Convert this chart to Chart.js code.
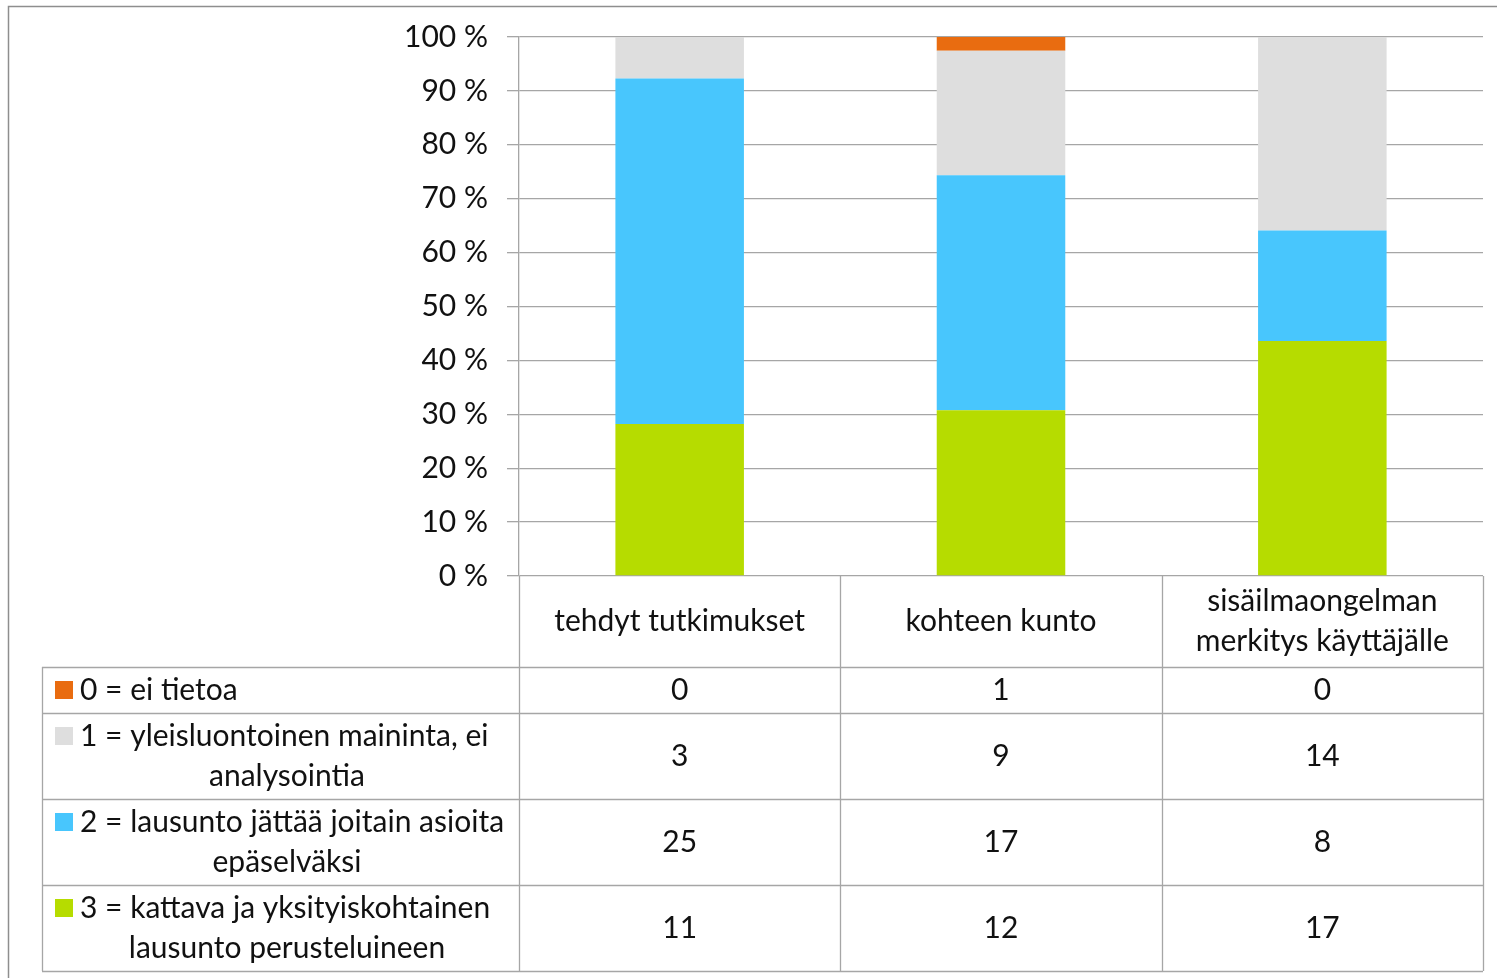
<!DOCTYPE html>
<html>
<head>
<meta charset="utf-8">
<script src="https://cdn.jsdelivr.net/npm/chart.js@4/dist/chart.umd.min.js"></script>
<style>
html,body{margin:0;padding:0;background:#fff;}
#wrap{width:1497px;height:978px;position:relative;}
</style>
</head>
<body>
<div id="wrap"><canvas id="c" width="1497" height="978"></canvas></div>
<script>
const categories = ['tehdyt tutkimukset', 'kohteen kunto', 'sisäilmaongelman merkitys käyttäjälle'];
const seriesNames = [
  '0 = ei tietoa',
  '1 = yleisluontoinen maininta, ei analysointia',
  '2 = lausunto jättää joitain asioita epäselväksi',
  '3 = kattava ja yksityiskohtainen lausunto perusteluineen'
];
const seriesColors = ['#E96C10', '#DEDEDE', '#48C6FD', '#B6DC00'];
const counts0 = [0, 1, 0];
const counts1 = [3, 9, 14];
const counts2 = [25, 17, 8];
const counts3 = [11, 12, 17];
const yTicks = [0, 10, 20, 30, 40, 50, 60, 70, 80, 90, 100];

const seriesCounts = [counts0, counts1, counts2, counts3];
const totals = categories.map((_, i) => seriesCounts.reduce((s, a) => s + a[i], 0));
const pct = arr => arr.map((v, i) => v / totals[i] * 100);

const FONT = 'Lato, "Open Sans", sans-serif';
const FS = 30;
const LINE = '#A6A6A6';

// bottom of stack first
const datasets = [3, 2, 1, 0].map(k => ({
  label: seriesNames[k],
  data: pct(seriesCounts[k]),
  backgroundColor: seriesColors[k],
  borderWidth: 0,
  categoryPercentage: 1,
  barPercentage: 0.4
}));

function wrap(ctx, text, maxW) {
  const words = text.split(' ');
  const lines = [];
  let cur = '';
  for (const w of words) {
    const t = cur ? cur + ' ' + w : w;
    if (cur && ctx.measureText(t).width > maxW) { lines.push(cur); cur = w; }
    else cur = t;
  }
  if (cur) lines.push(cur);
  return lines;
}

const tablePlugin = {
  id: 'dataTable',
  afterDraw(chart) {
    const ctx = chart.ctx;
    const ca = chart.chartArea;
    const x = chart.scales.x;
    ctx.save();
    // outer frame
    ctx.strokeStyle = '#8E8E8E';
    ctx.lineWidth = 1.5;
    ctx.beginPath();
    ctx.moveTo(8.5, 978); ctx.lineTo(8.5, 6.5); ctx.lineTo(1497, 6.5);
    ctx.stroke();

    const n = categories.length;
    const colW = (ca.right - ca.left) / n;
    const bounds = [];
    for (let i = 0; i <= n; i++) bounds.push(ca.left + colW * i);
    const leftX = 42;
    const top = ca.bottom;
    const headerH = 91;
    const lineH = 40;
    ctx.font = FS + 'px ' + FONT;
    const legLines = seriesNames.map(s => wrap(ctx, s, 445));
    const rowHs = legLines.map(l => l.length * lineH + 6);
    let total = headerH + rowHs.reduce((a, b) => a + b, 0);

    ctx.strokeStyle = LINE;
    ctx.lineWidth = 1.3;
    ctx.beginPath();
    for (let i = 0; i <= n; i++) {
      ctx.moveTo(Math.round(bounds[i]) + 0.5, top);
      ctx.lineTo(Math.round(bounds[i]) + 0.5, top + total);
    }
    ctx.moveTo(leftX + 0.5, top + headerH);
    ctx.lineTo(leftX + 0.5, top + total);
    let y = top + headerH;
    const rowTops = [];
    for (let r = 0; r <= rowHs.length; r++) {
      ctx.moveTo(leftX, Math.round(y) + 0.5);
      ctx.lineTo(bounds[n], Math.round(y) + 0.5);
      if (r < rowHs.length) { rowTops.push(y); y += rowHs[r]; }
    }
    ctx.stroke();

    ctx.fillStyle = '#111';
    ctx.textBaseline = 'middle';
    ctx.textAlign = 'center';
    categories.forEach((c, i) => {
      const cx = x.getPixelForValue(i);
      const lines = wrap(ctx, c, colW - 24);
      const cy = top + headerH / 2;
      lines.forEach((l, j) => {
        ctx.fillText(l, cx, cy + (j - (lines.length - 1) / 2) * lineH);
      });
    });
    seriesNames.forEach((s, r) => {
      const rt = rowTops[r];
      const rh = rowHs[r];
      const lines = legLines[r];
      const firstY = rt + rh / 2 - (lines.length - 1) / 2 * lineH;
      ctx.fillStyle = seriesColors[r];
      ctx.fillRect(55, firstY - 9, 18, 18);
      ctx.fillStyle = '#111';
      lines.forEach((l, j) => {
        if (j === 0) { ctx.textAlign = 'left'; ctx.fillText(l, 80, firstY); }
        else { ctx.textAlign = 'center'; ctx.fillText(l, (55 + bounds[0]) / 2, firstY + j * lineH); }
      });
      ctx.textAlign = 'center';
      seriesCounts[r].forEach((v, i) => {
        ctx.fillText(String(v), x.getPixelForValue(i), rt + rh / 2);
      });
    });
    ctx.restore();
  }
};

new Chart(document.getElementById('c'), {
  type: 'bar',
  data: { labels: categories, datasets },
  options: {
    responsive: false,
    animation: false,
    layout: { padding: { left: 0, top: 36, right: 14, bottom: 402 } },
    plugins: { legend: { display: false }, tooltip: { enabled: false } },
    scales: {
      x: {
        stacked: true,
        display: false
      },
      y: {
        stacked: true,
        min: 0, max: 100,
        afterFit(s) { s.width = 519; },
        afterBuildTicks(s) { s.ticks = yTicks.map(v => ({ value: v })); },
        ticks: {
          stepSize: 10,
          padding: 19,
          color: '#111',
          font: { family: FONT, size: FS },
          callback: v => v + ' %'
        },
        grid: { color: LINE, lineWidth: 1.3, tickLength: 12, drawTicks: true },
        border: { color: LINE, width: 1.3 }
      }
    }
  },
  plugins: [tablePlugin]
});
</script>
</body>
</html>
